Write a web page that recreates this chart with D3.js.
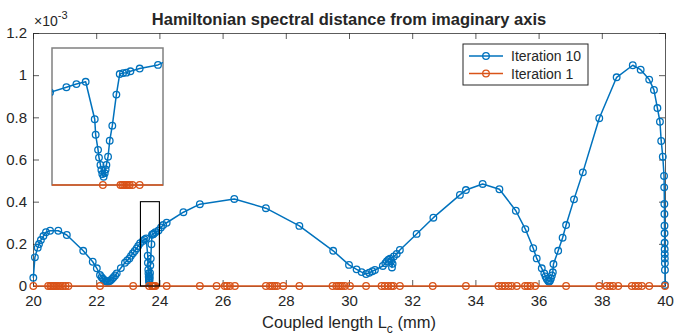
<!DOCTYPE html>
<html>
<head>
<meta charset="utf-8">
<script src="https://cdn.jsdelivr.net/npm/d3@7"></script>
<style>
  html, body { margin: 0; padding: 0; background: #fff; }
  svg { display: block; }
  text { font-family: "Liberation Sans", Arial, Helvetica, sans-serif; fill: #262626; }
</style>
</head>
<body>
<svg id="chart" width="674" height="335"></svg>
<script>
// ---- data ----
const titleText = "Hamiltonian spectral distance from imaginary axis";
const xTicks = [20, 22, 24, 26, 28, 30, 32, 34, 36, 38, 40];
const yTicks = [0, 0.2, 0.4, 0.6, 0.8, 1.0, 1.2];
const yTickLabels = ["0", "0.2", "0.4", "0.6", "0.8", "1", "1.2"];
const seriesNames = ["Iteration 10", "Iteration 1"];

const iter10X = [20.01, 20.06, 20.15, 20.19, 20.25, 20.33, 20.41, 20.54, 20.80, 21.07,
  21.59, 21.89, 22.02, 22.12, 22.17, 22.21, 22.25, 22.29, 22.33, 22.37,
  22.41, 22.45, 22.50, 22.55, 22.60, 22.65, 22.78, 22.91, 22.98, 23.05,
  23.10, 23.16, 23.22, 23.28, 23.33, 23.39, 23.478, 23.532, 23.582, 23.631,
  23.636, 23.649, 23.654, 23.662, 23.667, 23.672, 23.679, 23.685, 23.690, 23.694,
  23.703, 23.712, 23.726, 23.748, 23.766, 23.784, 23.802, 23.824, 23.874, 23.973,
  24.05, 24.12, 24.23, 24.76, 25.28, 26.37, 27.37, 28.43, 29.50, 30.00,
  30.24, 30.40, 30.54, 30.64, 30.74, 30.82, 31.07, 31.15, 31.20, 31.25,
  31.30, 31.34, 31.36, 31.38, 31.42, 31.51, 31.61, 32.14, 32.67, 33.51,
  33.70, 34.23, 34.76, 35.28, 35.58, 35.83, 35.94, 36.10, 36.18, 36.22,
  36.26, 36.30, 36.33, 36.36, 36.39, 36.42, 36.45, 36.47, 36.62, 36.76,
  36.87, 37.12, 37.40, 37.92, 38.47, 38.98, 39.23, 39.50, 39.65, 39.76,
  39.84, 39.88, 39.93, 39.97, 39.975, 39.98, 39.982, 39.984, 39.986, 39.988,
  39.99, 39.992, 39.994, 39.996, 39.998, 40.0];
const iter10Y = [0.039, 0.136, 0.182, 0.199, 0.218, 0.237, 0.255, 0.262, 0.262, 0.242,
  0.167, 0.115, 0.084, 0.052, 0.042, 0.035, 0.029, 0.024, 0.021, 0.020,
  0.022, 0.026, 0.033, 0.042, 0.050, 0.060, 0.085, 0.110, 0.121, 0.131,
  0.143, 0.155, 0.166, 0.178, 0.190, 0.203, 0.214, 0.221, 0.226, 0.144,
  0.110, 0.077, 0.060, 0.044, 0.033, 0.024, 0.018, 0.026, 0.034, 0.044,
  0.062, 0.097, 0.130, 0.198, 0.243, 0.245, 0.246, 0.249, 0.255, 0.263,
  0.278, 0.289, 0.300, 0.350, 0.388, 0.413, 0.369, 0.285, 0.167, 0.100,
  0.079, 0.066, 0.057, 0.063, 0.070, 0.076, 0.095, 0.108, 0.118, 0.125,
  0.130, 0.120, 0.088, 0.105, 0.140, 0.152, 0.171, 0.247, 0.324, 0.432,
  0.455, 0.484, 0.459, 0.357, 0.270, 0.179, 0.131, 0.084, 0.060, 0.045,
  0.033, 0.025, 0.020, 0.025, 0.035, 0.050, 0.065, 0.104, 0.167, 0.229,
  0.289, 0.411, 0.539, 0.796, 0.990, 1.047, 1.026, 0.979, 0.930, 0.844,
  0.779, 0.688, 0.613, 0.522, 0.468, 0.389, 0.342, 0.286, 0.250, 0.205,
  0.174, 0.152, 0.131, 0.108, 0.076, 0.005];

const iter1X = [20.01, 20.48, 20.55, 20.60, 20.65, 20.70, 20.75, 20.80, 20.88, 20.95,
  21.03, 21.12, 22.12, 23.17, 23.675, 23.77, 23.78, 23.79, 23.80, 23.81,
  23.82, 23.835, 23.874, 24.23, 25.28, 25.81, 26.07, 26.14, 26.23, 26.39,
  27.37, 27.50, 27.58, 27.65, 27.72, 27.92, 28.43, 29.48, 29.60, 29.66,
  29.72, 29.78, 29.87, 30.03, 30.54, 31.03, 31.13, 31.24, 31.34, 31.40,
  31.61, 32.65, 33.70, 34.73, 34.84, 34.94, 35.05, 35.15, 35.31, 35.57,
  35.65, 35.74, 35.89, 36.87, 37.92, 38.15, 38.26, 38.36, 38.52, 38.95,
  39.06, 39.16, 39.27, 39.50, 40.0];
const iter1Y = [0, 0, 0, 0, 0, 0, 0, 0, 0, 0,
  0, 0, 0, 0, 0, 0, 0, 0, 0, 0,
  0, 0, 0, 0, 0, 0, 0, 0, 0, 0,
  0, 0, 0, 0, 0, 0, 0, 0, 0, 0,
  0, 0, 0, 0, 0, 0, 0, 0, 0, 0,
  0, 0, 0, 0, 0, 0, 0, 0, 0, 0,
  0, 0, 0, 0, 0, 0, 0, 0, 0, 0,
  0, 0, 0, 0, 0];

const xDomain = [20, 40];
const yDomain = [0, 1.2];
const zoomX = [23.4, 24.0];
const zoomBoxY = [0, 0.4];
const insetY = [0, 0.3];

// ---- layout ----
const plot = { left: 33, right: 665, top: 33, bottom: 286 };
const inset = { left: 52, right: 163, top: 48, bottom: 185 };
const colors = ["#0072BD", "#D95319"];
const axisColor = "#262626";

const svg = d3.select("#chart");

const x = d3.scaleLinear().domain(xDomain).range([plot.left, plot.right]);
const y = d3.scaleLinear().domain(yDomain).range([plot.bottom, plot.top]);

const s10 = iter10X.map((v, i) => ({ x: v, y: iter10Y[i] }));
const s1 = iter1X.map((v, i) => ({ x: v, y: iter1Y[i] }));

// axes frame
const tickLen = 6;
svg.append("rect")
  .attr("x", plot.left).attr("y", plot.top)
  .attr("width", plot.right - plot.left).attr("height", plot.bottom - plot.top)
  .attr("fill", "#fff");

const gxB = svg.append("g").attr("transform", `translate(0,${plot.bottom})`)
  .call(d3.axisBottom(x).tickValues(xTicks).tickSizeInner(-tickLen).tickSizeOuter(0).tickPadding(9)
    .tickFormat(d3.format("d")));
const gxT = svg.append("g").attr("transform", `translate(0,${plot.top})`)
  .call(d3.axisTop(x).tickValues(xTicks).tickSizeInner(-tickLen).tickSizeOuter(0).tickFormat(""));
const gyL = svg.append("g").attr("transform", `translate(${plot.left},0)`)
  .call(d3.axisLeft(y).tickValues(yTicks).tickSizeInner(-tickLen).tickSizeOuter(0).tickPadding(6)
    .tickFormat((d, i) => yTickLabels[i]));
const gyR = svg.append("g").attr("transform", `translate(${plot.right},0)`)
  .call(d3.axisRight(y).tickValues(yTicks).tickSizeInner(-tickLen).tickSizeOuter(0).tickFormat(""));

[gxB, gxT, gyL, gyR].forEach(g => {
  g.select(".domain").attr("stroke", axisColor).attr("stroke-width", 1).attr("opacity", 0.75);
  g.selectAll(".tick line").attr("stroke", axisColor).attr("stroke-width", 1).attr("opacity", 0.75);
  g.selectAll(".tick text").attr("fill", axisColor).style("font-size", "15px")
    .style("font-family", '"Liberation Sans", Arial, sans-serif');
});
gxB.selectAll(".tick text").attr("dy", "0.71em");

// series drawing helper
function drawSeries(g, data, xs, ys, color) {
  const line = d3.line().x(d => xs(d.x)).y(d => ys(d.y));
  g.append("path").datum(data)
    .attr("d", line).attr("fill", "none")
    .attr("stroke", color).attr("stroke-width", 1.5).attr("stroke-linejoin", "round");
  g.selectAll(null).data(data).enter().append("circle")
    .attr("cx", d => xs(d.x)).attr("cy", d => ys(d.y)).attr("r", 3.3)
    .attr("fill", "none").attr("stroke", color).attr("stroke-width", 1.3);
}

const main = svg.append("g");
drawSeries(main, s10, x, y, colors[0]);
drawSeries(main, s1, x, y, colors[1]);

// zoom rectangle
svg.append("rect")
  .attr("x", x(zoomX[0])).attr("y", y(zoomBoxY[1]))
  .attr("width", x(zoomX[1]) - x(zoomX[0])).attr("height", y(zoomBoxY[0]) - y(zoomBoxY[1]))
  .attr("fill", "none").attr("stroke", "#000").attr("stroke-width", 1.1);

// inset axes
const xi = d3.scaleLinear().domain(zoomX).range([inset.left, inset.right]);
const yi = d3.scaleLinear().domain(insetY).range([inset.bottom, inset.top]);
svg.append("rect")
  .attr("x", inset.left).attr("y", inset.top)
  .attr("width", inset.right - inset.left).attr("height", inset.bottom - inset.top)
  .attr("fill", "#fff").attr("stroke", "#808080").attr("stroke-width", 1.5);
svg.append("clipPath").attr("id", "insetClip").append("rect")
  .attr("x", inset.left).attr("y", inset.top - 4)
  .attr("width", inset.right - inset.left).attr("height", inset.bottom - inset.top + 8);
const ig = svg.append("g").attr("clip-path", "url(#insetClip)");
drawSeries(ig, s10, xi, yi, colors[0]);
drawSeries(ig, s1, xi, yi, colors[1]);

// title
svg.append("text")
  .attr("x", (plot.left + plot.right) / 2).attr("y", 24.5)
  .attr("text-anchor", "middle")
  .style("font-size", "16.5px").style("font-weight", "bold").attr("fill", "#000")
  .text(titleText);

// exponent
const ex = svg.append("text").attr("x", 34).attr("y", 26).style("font-size", "14px").attr("fill", axisColor);
ex.append("tspan").text("\u00d710");
ex.append("tspan").attr("dy", -7).style("font-size", "11px").text("-3");

// x label
const xl = svg.append("text")
  .attr("x", (plot.left + plot.right) / 2).attr("y", 328)
  .attr("text-anchor", "middle").style("font-size", "16.5px").attr("fill", axisColor);
xl.append("tspan").text("Coupled length L");
xl.append("tspan").attr("dy", 5).style("font-size", "12px").text("c");
xl.append("tspan").attr("dy", -5).text(" (mm)");

// legend
const lg = svg.append("g");
const lb = { x: 463, y: 44, w: 125, h: 41 };
lg.append("rect").attr("x", lb.x).attr("y", lb.y).attr("width", lb.w).attr("height", lb.h)
  .attr("fill", "#fff").attr("stroke", axisColor).attr("stroke-width", 1);
seriesNames.forEach((name, i) => {
  const cy = lb.y + 12 + i * 17.5;
  lg.append("line").attr("x1", lb.x + 6).attr("x2", lb.x + 40).attr("y1", cy).attr("y2", cy)
    .attr("stroke", colors[i]).attr("stroke-width", 1.5);
  lg.append("circle").attr("cx", lb.x + 23).attr("cy", cy).attr("r", 3.3)
    .attr("fill", "none").attr("stroke", colors[i]).attr("stroke-width", 1.3);
  lg.append("text").attr("x", lb.x + 48).attr("y", cy + 5)
    .style("font-size", "14px").attr("fill", "#000").text(name);
});
</script>
</body>
</html>
